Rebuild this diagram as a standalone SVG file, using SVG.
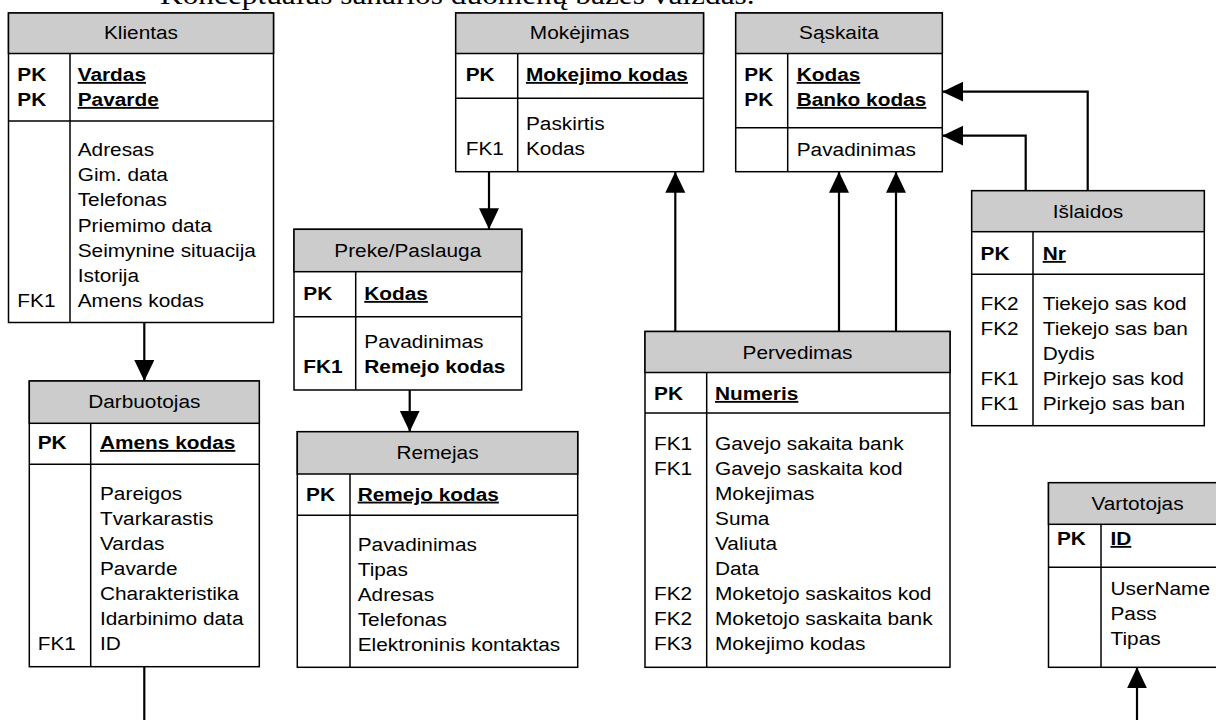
<svg xmlns="http://www.w3.org/2000/svg" width="1216" height="720" viewBox="0 0 1216 720">
<style>
.t{font-family:"Liberation Sans",Arial,sans-serif;font-size:18.6px;fill:#000;transform-box:fill-box;transform-origin:0 0;transform:scaleX(1.12)}
.h{text-anchor:middle;transform-origin:50% 0}
.b{font-weight:bold}
.u{font-weight:bold;text-decoration:underline}
.title{font-family:"Liberation Serif","Times New Roman",serif;font-size:28px;fill:#000;transform-box:fill-box;transform-origin:0 0;transform:scaleX(1.12)}
.box{fill:#fff;stroke:#000;stroke-width:1.5}
.hdr{fill:#cccccc;stroke:#000;stroke-width:1.5}
.ln{stroke:#000;stroke-width:1.5}
.conn{fill:none;stroke:#000;stroke-width:2.2;marker-end:url(#arr)}
.plain{fill:none;stroke:#000;stroke-width:2.2}
</style>
<defs>
<marker id="arr" markerUnits="userSpaceOnUse" markerWidth="22" markerHeight="21" refX="21" refY="10" orient="auto">
<path d="M0,0 L21,10 L0,20 Z" fill="#000"/>
</marker>
</defs>
<rect x="0" y="0" width="1216" height="720" fill="#fff"/>
<text class="title" x="160" y="4">Konceptualus sanarios duomenų bazės vaizdas.</text>

<g id="connectors">
<path class="conn" d="M144.3,322.5 V381"/>
<path class="plain" d="M144.3,666.7 V720"/>
<path class="conn" d="M489,171.7 V229.3"/>
<path class="conn" d="M409.7,390 V431.7"/>
<path class="conn" d="M675.3,331.5 V171.7"/>
<path class="conn" d="M839,331.5 V171.7"/>
<path class="conn" d="M896,331.5 V171.7"/>
<path class="conn" d="M1087.7,190.7 V91.7 H942.3"/>
<path class="conn" d="M1025.7,190.7 V135.7 H942.3"/>
<path class="conn" d="M1137,720 V667.3"/>
</g>

<g id="klientas">
<rect class="box" x="8.5" y="13" width="265" height="309.5"/>
<rect class="hdr" x="8.5" y="13" width="265" height="40.5"/>
<line class="ln" x1="8.5" y1="121" x2="273.5" y2="121"/>
<line class="ln" x1="70" y1="53.5" x2="70" y2="322.5"/>
<text class="t h" x="141" y="39.5">Klientas</text>
<text class="t b"><tspan x="17.3" y="81">PK</tspan><tspan x="17.3" y="106">PK</tspan></text>
<text class="t u"><tspan x="77.7" y="81">Vardas</tspan><tspan x="77.7" y="106">Pavarde</tspan></text>
<text class="t"><tspan x="17.3" y="307">FK1</tspan></text>
<text class="t"><tspan x="77.7" y="156">Adresas</tspan><tspan x="77.7" y="181.2">Gim. data</tspan><tspan x="77.7" y="206.4">Telefonas</tspan><tspan x="77.7" y="231.6">Priemimo data</tspan><tspan x="77.7" y="256.8">Seimynine situacija</tspan><tspan x="77.7" y="282">Istorija</tspan><tspan x="77.7" y="307.2">Amens kodas</tspan></text>
</g>

<g id="darbuotojas">
<rect class="box" x="29.3" y="381" width="230" height="285.7"/>
<rect class="hdr" x="29.3" y="381" width="230" height="42.3"/>
<line class="ln" x1="29.3" y1="464.3" x2="259.3" y2="464.3"/>
<line class="ln" x1="90.7" y1="423.3" x2="90.7" y2="666.7"/>
<text class="t h" x="144.3" y="408.4">Darbuotojas</text>
<text class="t b" x="37.7" y="449">PK</text>
<text class="t u" x="100" y="449">Amens kodas</text>
<text class="t" x="37.7" y="650">FK1</text>
<text class="t"><tspan x="100" y="500">Pareigos</tspan><tspan x="100" y="525">Tvarkarastis</tspan><tspan x="100" y="550">Vardas</tspan><tspan x="100" y="575">Pavarde</tspan><tspan x="100" y="600">Charakteristika</tspan><tspan x="100" y="625">Idarbinimo data</tspan><tspan x="100" y="650">ID</tspan></text>
</g>

<g id="mokejimas">
<rect class="box" x="455.7" y="13" width="247.8" height="158.7"/>
<rect class="hdr" x="455.7" y="13" width="247.8" height="40.5"/>
<line class="ln" x1="455.7" y1="98.3" x2="703.5" y2="98.3"/>
<line class="ln" x1="517.7" y1="53.5" x2="517.7" y2="171.7"/>
<text class="t h" x="579.6" y="39.5">Mokėjimas</text>
<text class="t b" x="465.7" y="81">PK</text>
<text class="t u" x="526" y="81">Mokejimo kodas</text>
<text class="t" x="465.7" y="155">FK1</text>
<text class="t"><tspan x="526" y="130">Paskirtis</tspan><tspan x="526" y="155">Kodas</tspan></text>
</g>

<g id="preke">
<rect class="box" x="294" y="229.3" width="227.7" height="160.7"/>
<rect class="hdr" x="294" y="229.3" width="227.7" height="42.4"/>
<line class="ln" x1="294" y1="316.7" x2="521.7" y2="316.7"/>
<line class="ln" x1="355.7" y1="271.7" x2="355.7" y2="390"/>
<text class="t h" x="407.8" y="257.5">Preke/Paslauga</text>
<text class="t b" x="303.3" y="300">PK</text>
<text class="t u" x="364.3" y="300">Kodas</text>
<text class="t b" x="303.3" y="373.3">FK1</text>
<text class="t" x="364.3" y="348.3">Pavadinimas</text>
<text class="t b" x="364.3" y="373.3">Remejo kodas</text>
</g>

<g id="remejas">
<rect class="box" x="297.3" y="431.7" width="280.4" height="235.6"/>
<rect class="hdr" x="297.3" y="431.7" width="280.4" height="42.3"/>
<line class="ln" x1="297.3" y1="515.3" x2="577.7" y2="515.3"/>
<line class="ln" x1="350" y1="474" x2="350" y2="667.3"/>
<text class="t h" x="437.5" y="459.5">Remejas</text>
<text class="t b" x="306" y="500.7">PK</text>
<text class="t u" x="357.7" y="500.7">Remejo kodas</text>
<text class="t"><tspan x="357.7" y="550.7">Pavadinimas</tspan><tspan x="357.7" y="575.9">Tipas</tspan><tspan x="357.7" y="601.1">Adresas</tspan><tspan x="357.7" y="626.3">Telefonas</tspan><tspan x="357.7" y="651.5">Elektroninis kontaktas</tspan></text>
</g>

<g id="saskaita">
<rect class="box" x="735.7" y="13" width="206.6" height="158.7"/>
<rect class="hdr" x="735.7" y="13" width="206.6" height="40.5"/>
<line class="ln" x1="735.7" y1="127.7" x2="942.3" y2="127.7"/>
<line class="ln" x1="787.7" y1="53.5" x2="787.7" y2="171.7"/>
<text class="t h" x="839" y="39.5">Sąskaita</text>
<text class="t b"><tspan x="744.3" y="81">PK</tspan><tspan x="744.3" y="106">PK</tspan></text>
<text class="t u"><tspan x="796.7" y="81">Kodas</tspan><tspan x="796.7" y="106">Banko kodas</tspan></text>
<text class="t" x="796.7" y="156">Pavadinimas</text>
</g>

<g id="islaidos">
<rect class="box" x="971.7" y="190.7" width="232.6" height="235"/>
<rect class="hdr" x="971.7" y="190.7" width="232.6" height="41"/>
<line class="ln" x1="971.7" y1="274.3" x2="1204.3" y2="274.3"/>
<line class="ln" x1="1033" y1="231.7" x2="1033" y2="425.7"/>
<text class="t h" x="1088" y="218">Išlaidos</text>
<text class="t b" x="980.5" y="260">PK</text>
<text class="t u" x="1042.7" y="260">Nr</text>
<text class="t"><tspan x="980.5" y="310">FK2</tspan><tspan x="980.5" y="335">FK2</tspan><tspan x="980.5" y="385">FK1</tspan><tspan x="980.5" y="410">FK1</tspan></text>
<text class="t"><tspan x="1042.7" y="310">Tiekejo sas kod</tspan><tspan x="1042.7" y="335">Tiekejo sas ban</tspan><tspan x="1042.7" y="360">Dydis</tspan><tspan x="1042.7" y="385">Pirkejo sas kod</tspan><tspan x="1042.7" y="410">Pirkejo sas ban</tspan></text>
</g>

<g id="pervedimas">
<rect class="box" x="645" y="331.5" width="305" height="335.8"/>
<rect class="hdr" x="645" y="331.5" width="305" height="41"/>
<line class="ln" x1="645" y1="413" x2="950" y2="413"/>
<line class="ln" x1="706.7" y1="372.5" x2="706.7" y2="667.3"/>
<text class="t h" x="797.5" y="358.7">Pervedimas</text>
<text class="t b" x="654" y="400">PK</text>
<text class="t u" x="715" y="400">Numeris</text>
<text class="t"><tspan x="654" y="450">FK1</tspan><tspan x="654" y="475">FK1</tspan><tspan x="654" y="600">FK2</tspan><tspan x="654" y="625">FK2</tspan><tspan x="654" y="650">FK3</tspan></text>
<text class="t"><tspan x="715" y="450">Gavejo sakaita bank</tspan><tspan x="715" y="475">Gavejo saskaita kod</tspan><tspan x="715" y="500">Mokejimas</tspan><tspan x="715" y="525">Suma</tspan><tspan x="715" y="550">Valiuta</tspan><tspan x="715" y="575">Data</tspan><tspan x="715" y="600">Moketojo saskaitos kod</tspan><tspan x="715" y="625">Moketojo saskaita bank</tspan><tspan x="715" y="650">Mokejimo kodas</tspan></text>
</g>

<g id="vartotojas">
<rect class="box" x="1048.5" y="482.7" width="178" height="184.6"/>
<rect class="hdr" x="1048.5" y="482.7" width="178" height="41.6"/>
<line class="ln" x1="1048.5" y1="567.3" x2="1226.5" y2="567.3"/>
<line class="ln" x1="1101" y1="524.3" x2="1101" y2="667.3"/>
<text class="t h" x="1137.5" y="510.2">Vartotojas</text>
<text class="t b" x="1057" y="545">PK</text>
<text class="t u" x="1110.5" y="545">ID</text>
<text class="t"><tspan x="1110.5" y="595">UserName</tspan><tspan x="1110.5" y="620">Pass</tspan><tspan x="1110.5" y="645">Tipas</tspan></text>
</g>
</svg>
